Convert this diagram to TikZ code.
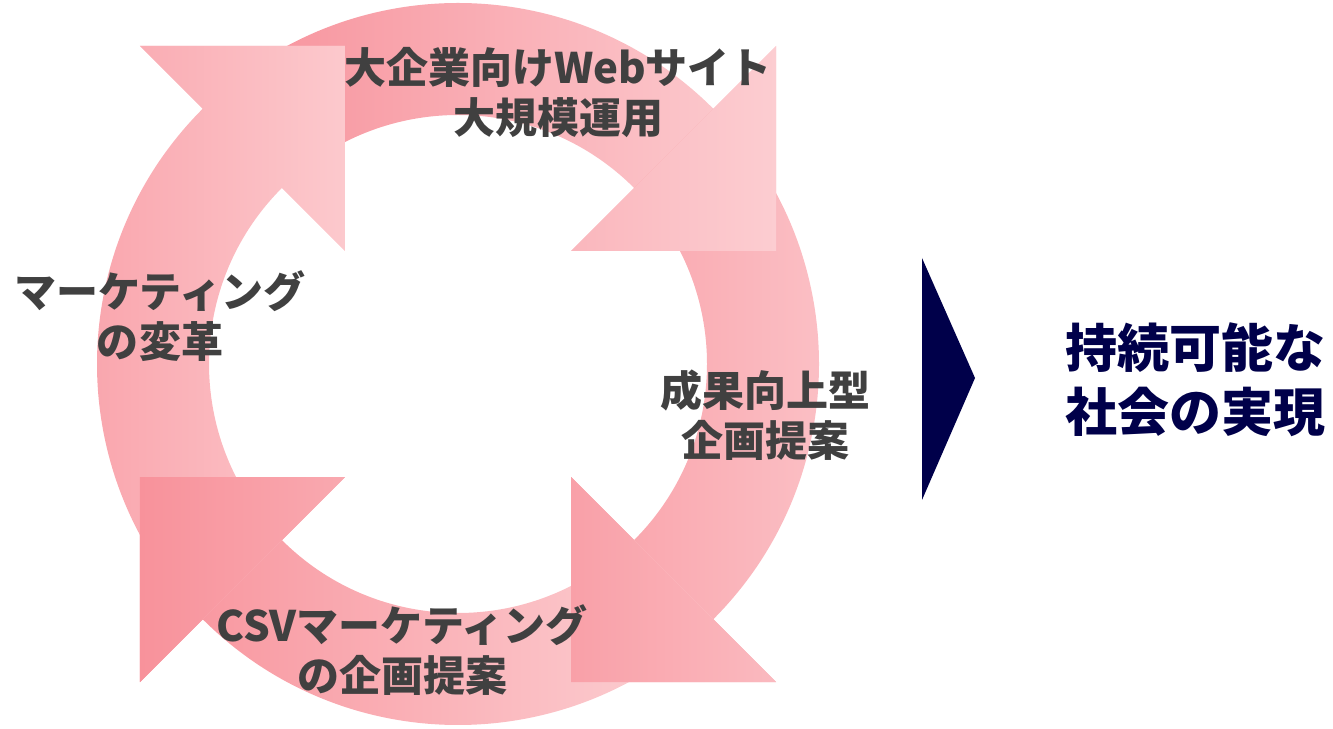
\documentclass[tikz,border=0pt]{standalone}
\usepackage{fontspec}
\newfontfamily\jp{Noto Sans CJK JP}
\usetikzlibrary{calc}
\definecolor{txtgray}{HTML}{404040}
\definecolor{navyc}{HTML}{00004A}
\definecolor{pdA}{HTML}{F78F99}\definecolor{plA}{HTML}{FCCDD1}
\definecolor{pdB}{HTML}{F9A0A8}\definecolor{plB}{HTML}{FBC3C8}
\definecolor{pdC}{HTML}{F8929B}\definecolor{plC}{HTML}{FCD2D5}
\definecolor{pdD}{HTML}{F9A2AA}\definecolor{plD}{HTML}{FCC9CD}
\newcommand\ringarrow[1]{($(C)+(#1+90:361)$) arc[start angle=#1+90,end angle=#1,radius=361] -- ($(C)+(#1:450)$) -- ($(C)+(#1:305)+(#1-90:145)$) -- ($(C)+(#1:160)$) -- ($(C)+(#1:249)$) arc[start angle=#1,end angle=#1+90,radius=249] -- cycle}
\newcommand\headtri[1]{($(C)+(#1:450)$) -- ($(C)+(#1:305)+(#1-90:145)$) -- ($(C)+(#1:160)$) -- cycle}
\tikzset{
  lbl/.style={text=txtgray, font=\jp\bfseries\fontsize{42bp}{50bp}\selectfont, align=center, inner sep=0pt},
  goal/.style={text=navyc, font=\jp\bfseries\fontsize{52bp}{64bp}\selectfont, align=center, inner sep=0pt},
  arrA/.style={left color=pdA, right color=plA},
  arrB/.style={left color=pdB, right color=plB},
  arrC/.style={left color=pdC, right color=plC},
  arrD/.style={left color=pdD, right color=plD}
}
\begin{document}
\begin{tikzpicture}[x=1bp,y=1bp]
\useasboundingbox (0,0) rectangle (1333,728);
\coordinate (C) at (458,364);
% full arrows
\path[arrA] \ringarrow{45};
\path[arrB] \ringarrow{-45};
\path[arrC] \ringarrow{-135};
\path[arrD] \ringarrow{135};
% heads on top
\begin{scope}\clip \headtri{45}; \path[arrA] \ringarrow{45}; \end{scope}
\begin{scope}\clip \headtri{-45}; \path[arrB] \ringarrow{-45}; \end{scope}
\begin{scope}\clip \headtri{-135}; \path[arrC] \ringarrow{-135}; \end{scope}
\begin{scope}\clip \headtri{135}; \path[arrD] \ringarrow{135}; \end{scope}
% labels
\node[lbl] (top) at (558,635) {大企業向けWebサイト\\大規模運用};
\node[lbl] (left) at (160,412) {マーケティング\\の変革};
\node[lbl] (right) at (765,313) {成果向上型\\企画提案};
\node[lbl] (bottom) at (402,78) {CSVマーケティング\\の企画提案};
% chevron and goal
\fill[navyc] (922,470) -- (975,350) -- (922,228) -- cycle;
\node[goal] (goaltext) at (1195,348) {持続可能な\\社会の実現};
\end{tikzpicture}
\end{document}
